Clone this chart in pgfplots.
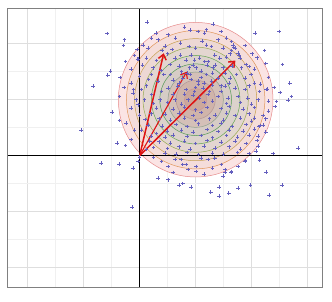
\documentclass[border=0pt]{standalone}
\usepackage{pgfplots}
\pgfplotsset{compat=1.18}
\usetikzlibrary{arrows.meta}
\definecolor{ptcol}{RGB}{100,95,190}
\definecolor{arrcol}{RGB}{222,20,20}
\begin{document}
\begin{tikzpicture}
\begin{axis}[
  scale only axis, width=314pt, height=278pt,
  xmin=-2.35, xmax=3.255, ymin=-2.345, ymax=2.62,
  xtick={-2,-1,0,1,2,3}, ytick={-2,-1,0,1,2},
  minor tick num=1,
  xticklabels={}, yticklabels={},
  major tick length=0pt, minor tick length=0pt,
  grid=both,
  major grid style={draw=black!13, line width=0.7pt},
  minor grid style={draw=black!6, line width=0.6pt},
  axis line style={draw=black!50, line width=1pt},
  clip=true,
]
% filled contour rings (outer to inner)
\draw[draw={rgb,255:red,230;green,140;blue,140}, fill={rgb,255:red,251;green,228;blue,228}, line width=0.5pt] (axis cs:1,1) circle [radius=1.38];
\draw[draw={rgb,255:red,224;green,150;blue,90}, fill={rgb,255:red,245;green,221;blue,218}, line width=0.5pt] (axis cs:1,1) circle [radius=1.235];
\draw[draw={rgb,255:red,200;green,160;blue,80}, fill={rgb,255:red,237;green,216;blue,212}, line width=0.5pt] (axis cs:1,1) circle [radius=1.09];
\draw[draw={rgb,255:red,150;green,170;blue,80}, fill={rgb,255:red,227;green,214;blue,208}, line width=0.5pt] (axis cs:1,1) circle [radius=0.94];
\draw[draw={rgb,255:red,100;green,165;blue,80}, fill={rgb,255:red,219;green,210;blue,204}, line width=0.5pt] (axis cs:1,1) circle [radius=0.79];
\draw[draw={rgb,255:red,85;green,155;blue,85}, fill={rgb,255:red,214;green,204;blue,198}, line width=0.5pt] (axis cs:1,1) circle [radius=0.64];
\draw[draw={rgb,255:red,140;green,160;blue,140}, fill={rgb,255:red,212;green,192;blue,184}, line width=0.5pt] (axis cs:1,1) circle [radius=0.495];
\draw[draw={rgb,255:red,180;green,150;blue,150}, fill={rgb,255:red,208;green,180;blue,170}, line width=0.5pt] (axis cs:1,1) circle [radius=0.35];
\draw[draw={rgb,255:red,200;green,150;blue,150}, fill={rgb,255:red,204;green,168;blue,156}, line width=0.5pt] (axis cs:1,1) circle [radius=0.20];
% axis lines through origin
\addplot[black, line width=1pt] coordinates {(0,-2.345) (0,2.62)};
\addplot[black, line width=1pt] coordinates {(-2.35,0) (3.255,0)};
% scatter points
\addplot[only marks, mark=+, mark size=1.8pt, color=ptcol, mark options={line width=0.6pt}] coordinates {
(0.13,2.39) (-0.58,2.18) (-0.27,2.07) (-0.29,1.97) (-0.52,1.51) (-0.57,1.44) (-0.83,1.24) (-1.05,0.46)
(-0.49,0.78) (-0.40,0.23) (-0.25,0.18) (-0.69,-0.13) (-0.37,-0.15) (-0.12,-0.22) (-0.03,-0.10) (-0.14,-0.92)
(0.33,-0.40) (0.51,-0.43) (0.70,-0.52) (0.77,-0.50) (0.92,-0.56) (1.27,-0.65) (1.42,-0.56) (1.42,-0.72)
(1.59,-0.67) (1.76,-0.58) (1.98,-0.52) (2.31,-0.70) (2.54,-0.52) (2.26,-0.29) (2.14,-0.08) (2.38,0.04)
(2.83,0.14) (1.89,-0.09) (2.06,2.19) (2.49,2.22) (2.23,1.88) (2.55,1.63) (2.68,1.30) (2.71,1.06)
(2.65,0.99) (2.42,0.88) (2.20,0.55) (2.11,0.35) (2.11,0.17) (1.49,-0.36) (1.63,-0.29) (1.52,-0.29)
(2.08,0.08) (2.05,0.67) (2.13,0.52) (1.31,2.35) (2.01,1.82) (2.28,1.19) (2.16,1.28) (1.95,1.59)
(1.77,1.80) (2.51,1.13) (2.44,0.97) (-0.36,1.06) (-0.11,1.18) (-0.06,1.0) (-0.24,0.58) (-0.09,0.46)
(-0.03,1.73) (-0.36,0.63) (-0.15,0.29)
(0.29,2.19) (0.51,2.16) (0.64,2.10) (0.90,2.24) (1.04,2.22) (1.16,2.19) (1.19,2.25) (1.40,2.07)
(1.55,2.10) (1.64,2.04) (0.21,2.10) (0.33,2.07) (1.11,2.05) (0.80,2.30) (1.45,2.22)
(0.06,1.98) (0.15,1.92) (0.73,2.01) (1.0,1.92) (1.19,1.98) (1.28,1.95) (1.49,1.92) (1.70,1.92)
(1.67,1.98) (1.68,1.93) (0.45,1.96) (0.58,1.90) (0.88,1.95) (1.88,1.97) (-0.05,1.90)
(-0.09,1.79) (-0.04,1.73) (0.12,1.74) (0.30,1.70) (0.63,1.74) (0.73,1.80) (0.83,1.71) (0.92,1.80)
(0.98,1.71) (1.07,1.74) (1.16,1.68) (1.34,1.80) (1.43,1.74) (1.22,1.68) (1.76,1.83) (1.79,1.74)
(1.64,1.88) (1.61,1.82) (0.50,1.82) (2.10,1.75) (0.40,1.88) (1.55,1.76)
(0.24,1.57) (0.54,1.63) (0.89,1.57) (1.01,1.57) (1.10,1.51) (1.31,1.57) (1.49,1.57) (1.82,1.57)
(1.90,1.63) (0.05,1.62) (-0.15,1.55) (0.38,1.52) (0.70,1.60) (1.65,1.60) (2.05,1.55) (2.25,1.65)
(-0.25,1.68) (1.20,1.62)
(0.21,1.45) (0.16,1.36) (0.33,1.33) (0.43,1.45) (0.77,1.39) (0.92,1.36) (1.04,1.33) (1.19,1.45)
(1.99,1.45) (1.88,1.39) (1.73,1.45) (1.61,1.39) (1.40,1.39) (1.28,1.33) (2.05,1.30) (-0.15,1.30)
(0.0,1.42) (0.60,1.35) (1.52,1.48) (2.30,1.40) (-0.35,1.40) (0.85,1.48)
(0.68,1.24) (0.83,1.18) (0.98,1.15) (1.13,1.21) (0.51,1.21) (0.39,1.15) (0.21,1.09) (0.03,1.18)
(-0.12,1.12) (1.52,1.24) (1.70,1.21) (1.88,1.18) (2.14,1.15) (2.26,1.18) (1.30,1.26) (0.60,1.10)
(1.95,1.25) (2.40,1.22) (-0.28,1.22) (0.12,1.25) (1.05,1.28)
(0.09,1.0) (0.36,1.0) (0.63,1.0) (0.86,1.0) (1.07,1.03) (2.11,1.0) (1.93,1.03) (1.76,1.06)
(1.58,1.03) (1.40,1.06) (1.22,1.09) (0.25,0.93) (0.50,0.95) (0.75,0.92) (1.15,0.95) (1.30,0.98)
(1.55,0.93) (1.80,0.95) (2.0,0.92) (2.30,0.98) (0.95,1.08)
(-0.15,0.85) (-0.03,0.91) (0.0,0.73) (0.3,0.85) (0.6,0.83) (0.8,0.87) (1.0,0.82) (1.2,0.86)
(1.45,0.84) (1.6,0.88) (1.85,0.83) (2.05,0.86) (2.30,0.80) (0.2,0.75) (0.45,0.74) (0.7,0.76)
(0.95,0.72) (1.1,0.77) (1.35,0.73) (1.55,0.76) (1.7,0.72) (1.95,0.75) (2.2,0.72)
(0.35,0.66) (0.55,0.64) (0.8,0.67) (1.0,0.63) (1.25,0.66) (1.5,0.64) (1.8,0.67) (2.0,0.62)
(2.25,0.66) (0.15,0.55) (0.4,0.53) (0.65,0.56) (0.85,0.52) (1.05,0.57) (1.3,0.54) (1.45,0.58)
(1.65,0.52) (1.9,0.56) (2.15,0.54) (0.10,0.65)
(0.03,0.46) (0.30,0.40) (0.5,0.44) (0.75,0.46) (0.95,0.42) (1.2,0.47) (1.4,0.43) (1.6,0.46)
(1.85,0.44) (2.05,0.48) (0.2,0.35) (0.45,0.33) (0.6,0.37) (0.85,0.34) (1.1,0.36) (1.3,0.32)
(1.55,0.36) (1.75,0.33) (1.95,0.37) (2.25,0.42)
(0.18,0.26) (0.12,0.11) (0.35,0.25) (0.55,0.23) (0.8,0.26) (1.0,0.22) (1.2,0.27) (1.45,0.24)
(1.7,0.26) (1.9,0.22) (2.1,0.27) (0.25,0.15) (0.5,0.13) (0.7,0.16) (0.9,0.12) (1.15,0.17)
(1.35,0.14) (1.6,0.16) (1.8,0.12)
(0.45,0.05) (0.65,0.03) (0.85,0.06) (1.05,0.02) (1.3,0.05) (1.5,0.03) (1.75,0.06) (1.95,0.04)
(0.74,-0.07) (0.63,-0.07) (0.39,-0.10) (1.10,-0.04) (1.22,-0.07) (1.34,-0.04) (1.88,-0.10) (0.0,-0.02)
(0.25,-0.03)
(0.77,-0.16) (0.86,-0.25) (1.01,-0.19) (1.46,-0.16) (1.64,-0.28) (1.76,-0.19) (1.52,-0.25) (0.51,-0.19)
(0.83,-0.16) (1.01,-0.28) (1.15,-0.33) (0.60,-0.30) (1.30,-0.22)
(0.9,1.45) (1.1,1.40) (1.3,1.48) (0.7,1.30) (1.15,1.30) (1.45,1.25) (0.8,1.10) (1.0,1.22)
(1.25,1.15) (1.45,1.15) (0.75,1.50) (1.6,1.30) (0.55,1.45) (1.35,1.62) (0.95,1.62)
};
% arrows
\addplot[arrcol, line width=1.5pt, -{Straight Barb[length=5pt,width=8pt]}] coordinates {(0,0) (0.43,1.83)};
\addplot[arrcol, line width=1.1pt, -{Straight Barb[length=5pt,width=8pt]}] coordinates {(0,0) (0.84,1.50)};
\addplot[arrcol, line width=1.5pt, -{Straight Barb[length=5pt,width=8pt]}] coordinates {(0,0) (1.71,1.70)};
\end{axis}
\path (current axis.south west) ++(-8pt,-14pt) coordinate (bl);
\path (current axis.north east) ++(10pt,9pt) coordinate (tr);
\pgfresetboundingbox
\path (bl) rectangle (tr);
\end{tikzpicture}
\end{document}
